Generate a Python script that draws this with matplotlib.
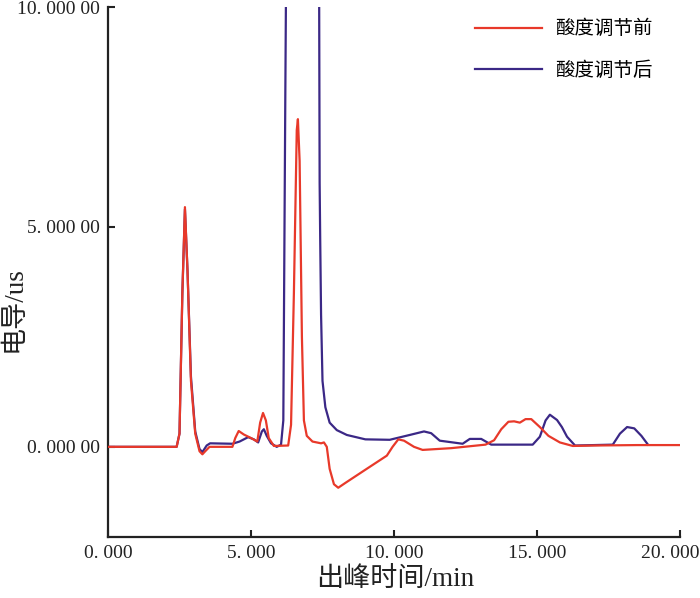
import matplotlib
matplotlib.use("Agg")
import matplotlib.pyplot as plt
from matplotlib.transforms import ScaledTranslation

# Data
red_t = [0.0, 2.40, 2.50, 2.60, 2.69, 2.78, 2.90, 3.05, 3.20, 3.30, 3.40, 3.55,
         4.35, 4.45, 4.57, 4.75, 5.00, 5.22, 5.32, 5.42, 5.52, 5.62, 5.80,
         6.30, 6.40, 6.50, 6.60, 6.64, 6.70, 6.78, 6.85, 6.95, 7.15, 7.45,
         7.55, 7.65, 7.75, 7.90, 8.05, 8.30, 9.00, 9.75, 9.95, 10.15, 10.35,
         10.70, 11.00, 12.00, 13.20, 13.50, 13.75, 14.00, 14.20, 14.40, 14.60,
         14.80, 15.10, 15.40, 15.80, 16.25, 17.00, 18.50, 20.00]
red_v = [0.0, 0.0, 0.3, 3.5, 5.45, 4.0, 1.5, 0.3, -0.1, -0.17, -0.1, 0.0,
         0.0, 0.2, 0.36, 0.28, 0.2, 0.12, 0.55, 0.77, 0.6, 0.2, 0.02,
         0.03, 0.5, 3.5, 7.2, 7.45, 6.5, 2.5, 0.6, 0.25, 0.12, 0.08,
         0.1, 0.0, -0.5, -0.85, -0.93, -0.82, -0.52, -0.2, 0.0, 0.17, 0.14,
         0.0, -0.07, -0.03, 0.05, 0.15, 0.4, 0.57, 0.58, 0.55, 0.63,
         0.63, 0.45, 0.25, 0.1, 0.02, 0.03, 0.04, 0.04]

blue_t = [0.0, 2.40, 2.50, 2.60, 2.69, 2.78, 2.90, 3.05, 3.20, 3.30, 3.45, 3.57,
          4.35, 4.60, 4.90, 5.10, 5.25, 5.38, 5.45, 5.55, 5.70, 5.90, 6.05,
          6.13, 6.20, 6.23, 6.80, 7.38, 7.40, 7.42, 7.45, 7.50, 7.60, 7.75,
          8.00, 8.35, 9.00, 9.85, 10.55, 11.05, 11.30, 11.60, 12.40, 12.65,
          13.05, 13.40, 14.85, 15.10, 15.30, 15.45, 15.70, 15.87, 16.05, 16.33,
          17.65, 17.90, 18.15, 18.40, 18.65, 18.88]
blue_v = [0.0, 0.0, 0.3, 3.5, 5.4, 4.0, 1.6, 0.35, -0.05, -0.12, 0.03, 0.08,
          0.07, 0.12, 0.22, 0.17, 0.1, 0.35, 0.4, 0.25, 0.08, 0.0, 0.05,
          0.6, 8.0, 11.0, 16.0, 11.0, 6.0, 4.7, 3.0, 1.5, 0.9, 0.55,
          0.38, 0.27, 0.17, 0.16, 0.27, 0.35, 0.31, 0.14, 0.07, 0.18,
          0.18, 0.05, 0.05, 0.23, 0.6, 0.73, 0.61, 0.45, 0.23, 0.03,
          0.05, 0.3, 0.45, 0.42, 0.25, 0.05]

series_labels = ["酸度调节前", "酸度调节后"]
x_ticks = [0, 5, 10, 15, 20]
x_ticklabels = ["0. 000", "5. 000", "10. 000", "15. 000", "20. 000"]
y_ticks = [0, 5, 10]
y_ticklabels = ["0. 000 00", "5. 000 00", "10. 000 00"]
x_label = "出峰时间/min"
y_label = "电导/us"

fam = ["Liberation Serif", "Noto Sans CJK SC"]
plt.rcParams["font.family"] = fam

fig = plt.figure(figsize=(7.0, 5.98), dpi=100)
ax = fig.add_axes([108/700, 1-537/598, (680-108)/700, (537-7)/598])

ax.plot(red_t, red_v, color="#e8392a", lw=1.6, label=series_labels[0], zorder=3)
ax.plot(blue_t, blue_v, color="#3b2886", lw=1.6, label=series_labels[1], zorder=2)

ax.set_xlim(0, 20)
ax.set_ylim(-2.05, 10)
for s in ["top", "right"]:
    ax.spines[s].set_visible(False)
for s in ["left", "bottom"]:
    ax.spines[s].set_linewidth(1.6)
    ax.spines[s].set_color("#222222")

ax.set_xticks(x_ticks)
ax.set_xticklabels(x_ticklabels)
ax.set_yticks(y_ticks)
ax.set_yticklabels(y_ticklabels)
ax.tick_params(direction="in", length=5, width=1.5, labelsize=14,
               colors="#222222", pad=6)
# last x tick label sits slightly left so it fits inside the figure
last = ax.get_xticklabels()[-1]
last.set_transform(last.get_transform() + ScaledTranslation(-10/100, 0, fig.dpi_scale_trans))

ax.set_xlabel(x_label, fontsize=19.5, color="#222222")
ax.xaxis.set_label_coords(0.502, -0.056)
ax.set_ylabel(y_label, fontsize=19.5, color="#222222")
ax.yaxis.set_label_coords(-0.143, 0.43)

leg = ax.legend(loc="upper left", bbox_to_anchor=(0.6416, 0.9755), frameon=False,
                fontsize=14, handlelength=3.45, handletextpad=0.67,
                labelspacing=1.2, borderpad=0, borderaxespad=0)

fig.savefig("out.png", dpi=100)
